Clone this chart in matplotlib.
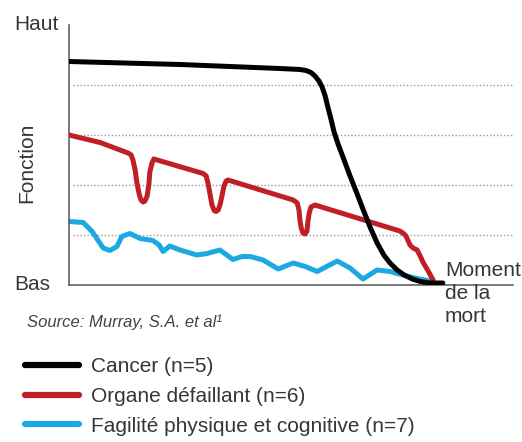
import matplotlib
matplotlib.use("Agg")
import matplotlib.pyplot as plt

plt.rcParams['font.family'] = ['Liberation Sans', 'DejaVu Sans']

# Trajectories of decline (x = time 0..100, y = function level 0..5.2)
cancer_t = [0, 25, 47.5, 52.0, 53.4, 54.5, 55.4, 56.3, 57.0, 57.7, 58.3, 59.0, 59.7,
            60.6, 61.7, 63.3, 64.9, 66.2, 67.8, 69.4, 70.9, 72.3, 73.9, 75.5, 77.3,
            79.1, 81.3, 84.2]
cancer_y = [4.47, 4.41, 4.33, 4.31, 4.29, 4.25, 4.18, 4.08, 3.96, 3.78, 3.56, 3.32, 3.06,
            2.82, 2.56, 2.18, 1.82, 1.52, 1.16, 0.84, 0.60, 0.44, 0.30, 0.20, 0.12,
            0.07, 0.04, 0.04]

organ_t = [0, 7.0, 13.3, 14.0, 14.4, 14.9, 15.3, 15.8, 16.2, 16.7, 17.1, 17.6, 18.0,
           18.2, 18.7, 19.1,
           30.2, 30.9, 31.3, 31.8, 32.2, 32.7, 33.1, 33.6, 34.0, 34.5, 34.9, 35.4, 35.8,
           50.5, 51.4, 51.8, 52.0, 52.3, 52.7, 53.2, 53.6, 53.8, 54.1, 54.5, 55.4,
           74.5, 75.2, 75.9, 76.4, 76.8, 77.5, 78.4, 79.1, 79.7, 80.9, 82.0]
organ_y = [3.0, 2.85, 2.64, 2.60, 2.50, 2.30, 2.04, 1.82, 1.70, 1.66, 1.68, 1.78, 2.02,
           2.26, 2.44, 2.52,
           2.23, 2.18, 2.04, 1.80, 1.60, 1.49, 1.47, 1.50, 1.60, 1.80, 1.98, 2.08, 2.10,
           1.70, 1.64, 1.50, 1.30, 1.14, 1.04, 1.02, 1.08, 1.26, 1.44, 1.56, 1.60,
           1.08, 1.04, 0.98, 0.88, 0.80, 0.74, 0.70, 0.58, 0.46, 0.28, 0.10]

frail_t = [0, 3.2, 5.2, 7.7, 9.2, 10.8, 11.9, 13.7, 16.0, 18.9, 20.3, 21.2, 22.7, 25.0,
           28.8, 31.1, 34.0, 36.9, 39.0, 40.8, 43.7, 47.1, 50.5, 53.2, 55.9, 60.4,
           63.3, 66.2, 69.4, 72.3, 75.2, 78.4, 81.3]
frail_y = [1.27, 1.25, 1.07, 0.74, 0.69, 0.77, 0.97, 1.03, 0.93, 0.89, 0.80, 0.67, 0.78,
           0.70, 0.60, 0.63, 0.70, 0.51, 0.57, 0.57, 0.50, 0.32, 0.44, 0.37, 0.27,
           0.48, 0.34, 0.12, 0.30, 0.27, 0.20, 0.13, 0.08]

grid_levels = [1, 2, 3, 4]
labels = ["Cancer (n=5)", "Organe défaillant (n=6)", "Fagilité physique et cognitive (n=7)"]
colors = ["#000000", "#be2026", "#1ca8e0"]

W, H = 522, 442
fig = plt.figure(figsize=(W / 100, H / 100), dpi=100)
ax = fig.add_axes([69 / W, 157 / H, 444 / W, 260 / H])

for y in grid_levels:
    ax.axhline(y, xmin=0.01, xmax=1, color="#9a9a9a", lw=1, ls=(0, (1, 1.5)), zorder=1)

lw = 3.6
style = dict(lw=lw, solid_joinstyle="round", solid_capstyle="round")
l3, = ax.plot(frail_t, frail_y, color=colors[2], zorder=2, **style)
l2, = ax.plot(organ_t, organ_y, color=colors[1], zorder=3, **style)
l1, = ax.plot(cancer_t, cancer_y, color=colors[0], zorder=4, **style)

ax.set_xlim(0, 100)
ax.set_ylim(0, 5.2)
ax.set_xticks([])
ax.set_yticks([])
for s in ["top", "right"]:
    ax.spines[s].set_visible(False)
for s in ["left", "bottom"]:
    ax.spines[s].set_color("#555555")
    ax.spines[s].set_linewidth(1.1)

txt = "#363636"
fs = 15
fig.text(14 / W, 1 - 25 / H, "Haut", fontsize=fs, color=txt, va="center", ha="left")
fig.text(14 / W, 1 - 285 / H, "Bas", fontsize=fs, color=txt, va="center", ha="left")
fig.text(27 / W, 1 - 163 / H, "Fonction", fontsize=fs, color=txt, va="center",
         ha="center", rotation=90)
fig.text(445 / W, 1 - 261 / H, "Moment\nde la\nmort", fontsize=fs, color=txt,
         va="top", ha="left", linespacing=1.25)
fig.text(27 / W, 1 - 322 / H, "Source: Murray, S.A. et al\u00b9", fontsize=12,
         style="italic", color="#444444", va="center", ha="left")

leg = fig.legend([l1, l2, l3], labels, loc="upper left",
                 bbox_to_anchor=(25 / W, 1 - 357 / H), frameon=False, fontsize=fs,
                 handlelength=2.6, handletextpad=0.55, labelspacing=0.52,
                 borderpad=0, borderaxespad=0)
for h in leg.legend_handles:
    h.set_linewidth(4.5)
    h.set_solid_capstyle("round")
for t in leg.get_texts():
    t.set_color(txt)

fig.savefig("out.png", dpi=100)
